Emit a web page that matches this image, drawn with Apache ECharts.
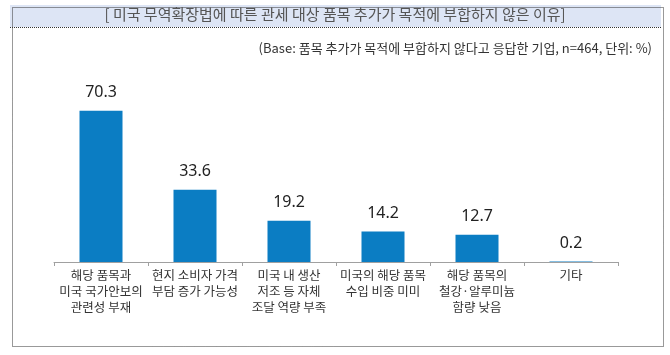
<!DOCTYPE html>
<html><head><meta charset="utf-8">
<script src="https://cdn.jsdelivr.net/npm/echarts@6/dist/echarts.min.js"></script>
<style>html,body{margin:0;padding:0;background:#fff}#c{width:670px;height:355px}</style>
</head><body><div id="c"></div>
<script>
var categories = ["해당 품목과\n미국 국가안보의\n관련성 부재", "현지 소비자 가격\n부담 증가 가능성", "미국 내 생산\n저조 등 자체\n조달 역량 부족", "미국의 해당 품목\n수입 비중 미미", "해당 품목의\n철강·알루미늄\n함량 낮음", "기타"];
var values = [70.3, 33.6, 19.2, 14.2, 12.7, 0.2];
var titleText = "[ 미국 무역확장법에 따른 관세 대상 품목 추가가 목적에 부합하지 않은 이유]";
var subText = "(Base: 품목 추가가 목적에 부합하지 않다고 응답한 기업, n=464, 단위: %)";

var chart = echarts.init(document.getElementById('c'), null, {renderer: 'canvas'});
chart.setOption({
  animation: false,
  graphic: [
    {type: 'rect', left: 10, top: 5, shape: {width: 651, height: 22}, style: {fill: '#dde5f5', stroke: null}, z: 0},
    {type: 'rect', left: 10, top: 5, shape: {width: 651, height: 339}, style: {fill: 'none', stroke: '#333', lineWidth: 1, lineDash: [1, 1]}, z: 1},
    {type: 'line', shape: {x1: 10, y1: 27.5, x2: 661, y2: 27.5}, style: {stroke: '#333', lineWidth: 1, lineDash: [1, 1]}, z: 1},
    {type: 'text', left: 'center', top: 7, style: {text: titleText, fontSize: 15, fill: '#555', fontFamily: 'Noto Sans CJK KR'}, z: 2},
    {type: 'text', right: 18, top: 42, style: {text: subText, fontSize: 13, fill: '#333', fontFamily: 'Noto Sans CJK KR'}, z: 2}
  ],
  grid: {left: 54, right: 52, top: 90, bottom: 93},
  xAxis: {
    type: 'category', data: categories,
    axisLine: {lineStyle: {color: '#a0a0a0'}},
    axisTick: {show: true, length: 4, lineStyle: {color: '#a0a0a0'}},
    axisLabel: {color: '#333', fontSize: 12.5, lineHeight: 16, margin: 5, interval: 0, fontFamily: 'Noto Sans CJK KR'}
  },
  yAxis: {type: 'value', min: 0, max: 80, show: false, splitLine: {show: false}},
  series: [{
    type: 'bar', data: values, barWidth: 43,
    itemStyle: {color: '#0b7dc3'},
    label: {show: true, position: 'top', distance: 10, fontSize: 16, color: '#222', fontFamily: 'Noto Sans', formatter: function(p){return p.value.toFixed(1);}}
  }]
});
</script></body></html>
